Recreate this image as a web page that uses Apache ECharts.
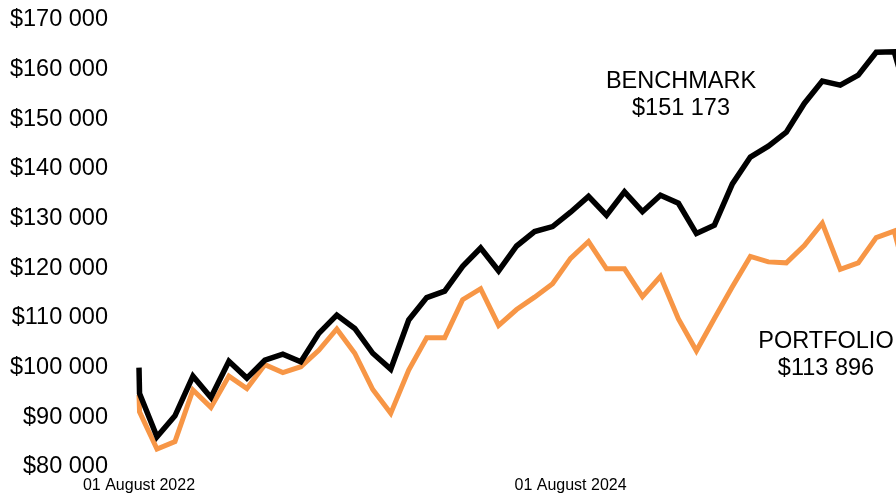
<!DOCTYPE html>
<html>
<head>
<meta charset="utf-8">
<script src="https://cdn.jsdelivr.net/npm/echarts@6/dist/echarts.min.js"></script>
<style>
  html, body { margin: 0; padding: 0; background: #fff; }
  #chart { width: 896px; height: 495px; }
</style>
</head>
<body>
<div id="chart"></div>
<script>
// months since 01 August 2022 (the second point is the same day, after the sales charge)
const months = [0, 0.03, 1, 2, 3, 4, 5, 6, 7, 8, 9, 10, 11, 12, 13, 14, 15, 16, 17, 18, 19, 20,
  21, 22, 23, 24, 25, 26, 27, 28, 29, 30, 31, 32, 33, 34, 35, 36, 37, 38, 39, 40, 41, 42, 43]

const benchmark = [100000, 94800, 86100, 90300, 98300, 94000, 101300, 97900, 101500, 102700, 101200,
  106900, 110600, 107900, 102900, 99700, 109600, 114100, 115400, 120400, 124100, 119500, 124500,
  127400, 128400, 131300, 134500, 130700, 135400, 131400, 134700, 133100, 127000, 128700, 137000,
  142400, 144600, 147400, 153200, 157700, 156900, 158900, 163500, 163600, 151173]

const portfolio = [94500, 91100, 83600, 85100, 95500, 92000, 98300, 95800, 100600, 99000, 100200,
  103500, 107800, 102900, 95600, 90800, 99500, 106000, 106000, 113700, 115900, 108500, 111700,
  114200, 116900, 122000, 125400, 119900, 119900, 114300, 118400, 109800, 103400, 109900, 116300,
  122400, 121300, 121100, 124600, 129100, 119800, 121100, 126200, 127500, 113896]

const xTickValues = [0, 24]
const xTickLabels = ['01 August 2022', '01 August 2024']

const money = (v) => '$' + String(v).replace(/\B(?=(\d{3})+(?!\d))/g, ' ')
const pairs = (ys) => months.map((m, i) => [m, ys[i]])

const chart = echarts.init(document.getElementById('chart'))
const font = '"Liberation Sans", Arial, sans-serif'

const option = {
  animation: false,
  backgroundColor: '#fff',
  // the picture is cut on the right: the last month lies just past the edge
  grid: { left: 139, right: 0, top: 20, bottom: 28, containLabel: false },
  xAxis: {
    type: 'value',
    min: 0,
    max: 42.1,
    interval: 24,
    axisLine: { show: false },
    axisTick: { show: false },
    splitLine: { show: false },
    axisLabel: {
      showMaxLabel: false,
      margin: 11,
      color: '#000',
      fontSize: 16,
      fontFamily: font,
      formatter: (v) => {
        const i = xTickValues.indexOf(v)
        return i >= 0 ? xTickLabels[i] : ''
      },
    },
  },
  yAxis: {
    type: 'value',
    min: 80000,
    max: 170000,
    interval: 10000,
    axisLine: { show: false },
    axisTick: { show: false },
    splitLine: { show: false },
    axisLabel: {
      margin: 31,
      color: '#000',
      fontSize: 23.5,
      fontFamily: font,
      formatter: (v) => money(v),
    },
  },
  series: [
    {
      name: 'PORTFOLIO',
      type: 'line',
      data: pairs(portfolio),
      showSymbol: false,
      clip: false,
      lineStyle: { color: '#F79646', width: 5, join: 'miter' },
      z: 2,
    },
    {
      name: 'BENCHMARK',
      type: 'line',
      data: pairs(benchmark),
      showSymbol: false,
      clip: false,
      lineStyle: { color: '#000', width: 5.5, join: 'miter' },
      z: 3,
    },
  ],
  graphic: [
    {
      type: 'text',
      x: 681,
      y: 95,
      style: {
        text: 'BENCHMARK\n' + money(benchmark[benchmark.length - 1]),
        fill: '#000',
        fontSize: 23.5,
        fontFamily: font,
        lineHeight: 27,
        align: 'center',
        verticalAlign: 'middle',
      },
    },
    {
      type: 'text',
      x: 826,
      y: 355,
      style: {
        text: 'PORTFOLIO\n' + money(portfolio[portfolio.length - 1]),
        fill: '#000',
        fontSize: 23.5,
        fontFamily: font,
        lineHeight: 27,
        align: 'center',
        verticalAlign: 'middle',
      },
    },
  ],
}

option && chart.setOption(option)
</script>
</body>
</html>
